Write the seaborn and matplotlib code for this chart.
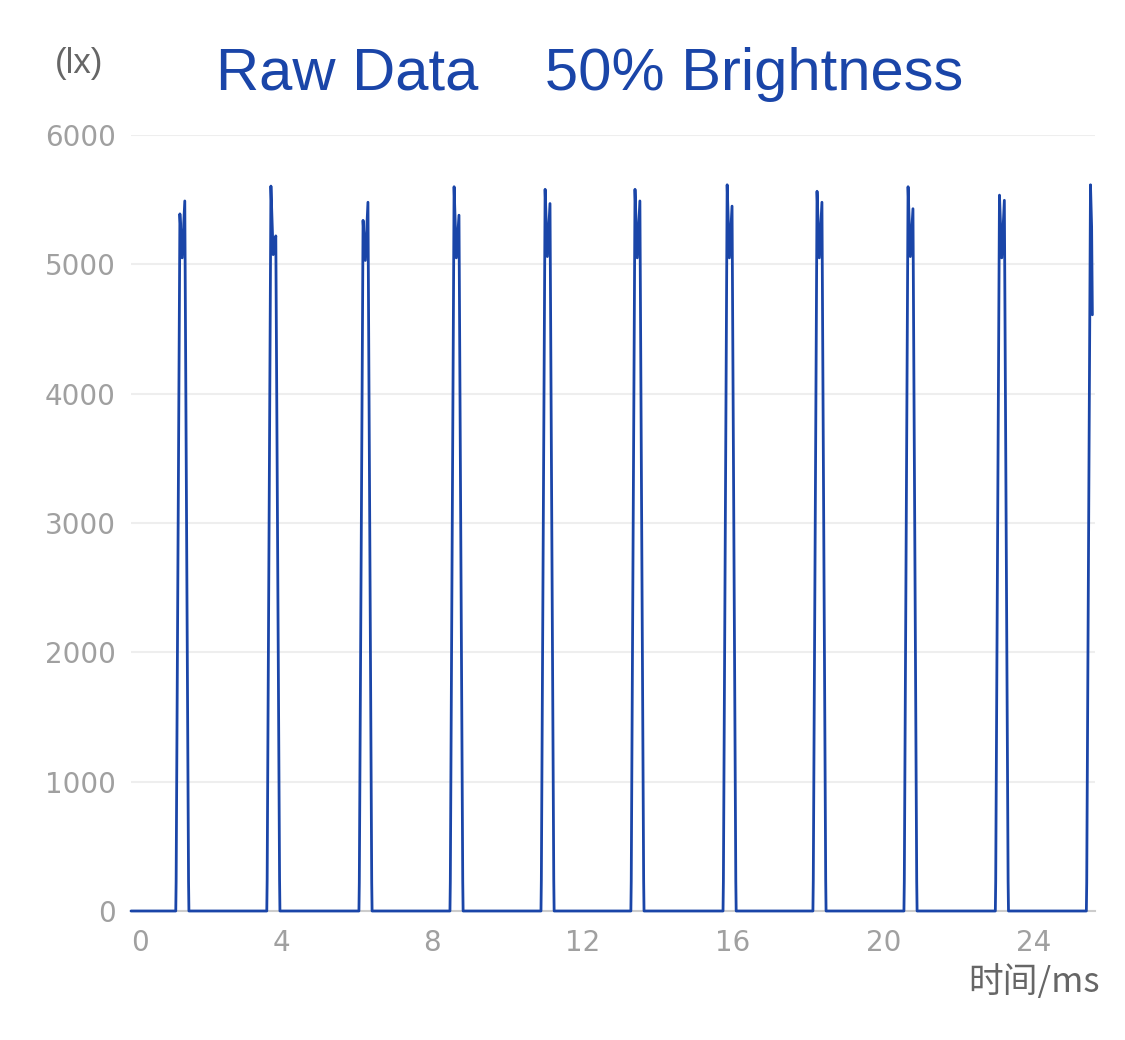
import numpy as np
import pandas as pd
import matplotlib
matplotlib.use("Agg")
import matplotlib.pyplot as plt
import seaborn as sns

# ---- data (time in ms, illuminance in lx) ----
peak1_times = [1.30, 3.72, 6.17, 8.59, 11.01, 13.40, 15.85, 18.24, 20.66, 23.09, 25.51]
peak1_vals = [5390, 5605, 5340, 5600, 5580, 5580, 5615, 5565, 5600, 5535, 5615]
dip_vals = [5050, 5075, 5030, 5050, 5060, 5050, 5050, 5050, 5060, 5050, 5290]
peak2_vals = [5490, 5220, 5480, 5380, 5470, 5490, 5450, 5480, 5430, 5495, 4610]
edge_low_vals = [230, 240, 220, 230, 240, 230, 230, 240, 230, 230, 220]
# sample offsets (ms) of the pulse vertices relative to the first peak
rise_offsets = [-0.11, -0.10]
fall_offsets = [0.06, 0.13, 0.23, 0.24]
t_end = 25.56

times = [0.0]
vals = [0.0]
for i, tp in enumerate(peak1_times):
    times += [tp + rise_offsets[0], tp + rise_offsets[1], tp]
    vals += [0.0, edge_low_vals[i], peak1_vals[i]]
    if i < len(peak1_times) - 1:
        times += [tp + fall_offsets[0], tp + fall_offsets[1], tp + fall_offsets[2], tp + fall_offsets[3]]
        vals += [dip_vals[i], peak2_vals[i], edge_low_vals[i], 0.0]
    else:
        times += [tp + 0.03, t_end]
        vals += [dip_vals[i], peak2_vals[i]]

df = pd.DataFrame({"t": times, "lx": vals})

sns.set_style("white")
plt.rcParams["font.family"] = ["Liberation Sans", "Noto Sans CJK SC", "DejaVu Sans"]

W, H = 1125, 1040
fig = plt.figure(figsize=(W / 100, H / 100), dpi=100)
ax = fig.add_axes([131 / W, 1 - 911 / H, (1095 - 131) / W, (911 - 135) / H])

line_color = "#1a45a8"
sns.lineplot(data=df, x="t", y="lx", ax=ax, color=line_color, linewidth=2.0,
             estimator=None, sort=False, zorder=3)
for ln in ax.get_lines():
    ln.set_clip_on(False)

ax.set_xlim(0, 25.63)
ax.set_ylim(0, 6000)
ax.set_xticks([0, 4, 8, 12, 16, 20, 24])
ax.set_yticks([0, 1000, 2000, 3000, 4000, 5000, 6000])
ax.set_xlabel("")
ax.set_ylabel("")

ax.grid(axis="y", color="#eeeeee", linewidth=1.5)
ax.grid(axis="x", visible=False)
ax.set_axisbelow(True)
for side in ["top", "right", "left"]:
    ax.spines[side].set_visible(False)
ax.spines["bottom"].set_color("#cccccc")
ax.spines["bottom"].set_linewidth(1.5)

ax.tick_params(axis="both", length=0, labelsize=20, labelcolor="#a0a0a0")
ax.tick_params(axis="y", pad=11)
ax.tick_params(axis="x", pad=13)
for lab in ax.get_xticklabels() + ax.get_yticklabels():
    lab.set_family("DejaVu Sans")
ax.get_xticklabels()[0].set_ha("left")

fig.text(590 / W, 1 - 75 / H, "Raw Data    50% Brightness", color="#1a45a8",
         fontsize=43, ha="center", va="center")
fig.text(79 / W, 1 - 63 / H, "(lx)", color="#666666", fontsize=25,
         ha="center", va="center")
fig.text(1034 / W, 1 - 983 / H, "时间/ms", color="#666666", fontsize=25,
         ha="center", va="center",
         family=["Noto Sans CJK SC", "Liberation Sans"])

fig.savefig("out.png", dpi=100, facecolor="white")
